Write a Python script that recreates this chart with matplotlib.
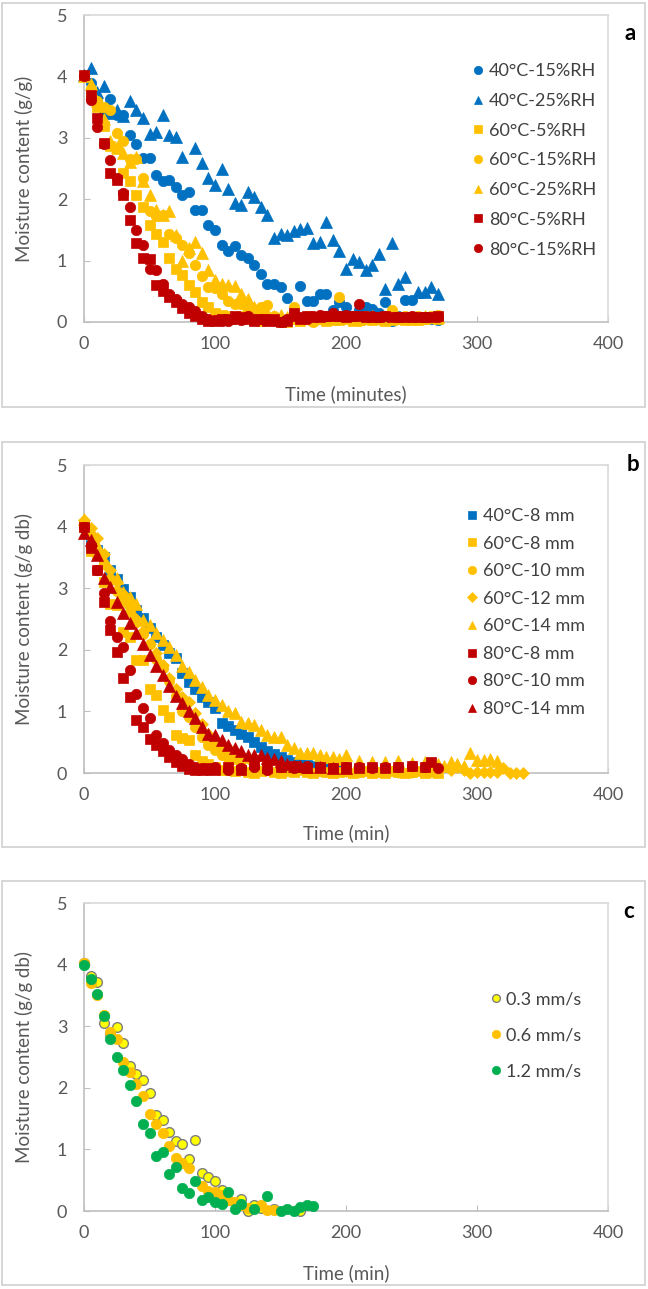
import matplotlib
matplotlib.use('Agg')
import matplotlib.pyplot as plt
from matplotlib.patches import Rectangle

plt.rcParams['font.family'] = ['Lato', 'DejaVu Sans']

BLUE = '#0070C0'
GOLD = '#FFC000'
RED = '#C00000'
GREEN = '#00B050'
YELLOW = '#FFFF00'
GREY_TXT = '#595959'

# ---- panel a : temperature / RH ----
a_40_15_t = [0, 5, 10, 15, 20, 25, 30, 35, 40, 45, 50, 55, 60, 65, 70, 75, 80, 85, 90, 95, 100, 105, 110, 115, 120,
             125, 130, 135, 140, 145, 150, 155, 160, 165, 170, 175, 180, 185, 190, 195, 200, 205, 210, 215, 220,
             225, 230, 235, 240, 245, 250, 255, 260, 265, 270]
a_40_15_m = [4.00, 3.89, 3.62, 3.40, 3.63, 3.37, 3.37, 3.05, 2.90, 2.67, 2.67, 2.39, 2.29, 2.31, 2.20, 2.07, 2.11,
             1.83, 1.82, 1.58, 1.50, 1.25, 1.16, 1.24, 1.09, 1.05, 0.93, 0.78, 0.62, 0.62, 0.57, 0.39, 0.15, 0.58,
             0.35, 0.35, 0.46, 0.46, 0.20, 0.33, 0.25, 0.10, 0.20, 0.25, 0.21, 0.15, 0.33, 0.02, 0.10, 0.36, 0.36,
             0.05, 0.08, 0.05, 0.03]

a_40_25_t = [0, 5, 10, 15, 20, 25, 30, 35, 40, 45, 50, 55, 60, 65, 70, 75, 85, 90, 95, 100, 105, 110, 115, 120,
             125, 130, 135, 140, 145, 150, 155, 160, 165, 170, 175, 180, 185, 190, 195, 200, 205, 210, 215, 220,
             225, 230, 235, 240, 245, 255, 260, 265, 270]
a_40_25_m = [4.02, 4.13, 3.75, 3.84, 3.40, 3.45, 3.35, 3.60, 3.45, 3.32, 3.07, 3.10, 3.37, 3.05, 3.02, 2.69, 2.83,
             2.59, 2.34, 2.23, 2.50, 2.16, 1.93, 1.91, 2.11, 2.04, 1.88, 1.74, 1.36, 1.44, 1.42, 1.49, 1.51, 1.53,
             1.28, 1.31, 1.63, 1.34, 1.16, 0.86, 1.03, 0.98, 0.85, 0.93, 1.11, 0.53, 1.28, 0.62, 0.74, 0.49, 0.49,
             0.57, 0.45]

a_60_5_t = a_40_15_t
a_60_5_m = [4.00, 3.70, 3.50, 3.19, 2.86, 2.81, 2.42, 2.29, 2.07, 1.88, 1.58, 1.44, 1.31, 1.04, 0.87, 0.77, 0.60,
            0.49, 0.33, 0.25, 0.15, 0.12, 0.10, 0.08, 0.10, 0.05, 0.08, 0.02, 0.05, 0.05, 0.02, 0.00, 0.05, 0.02,
            0.05, 0.03, 0.05, 0.02, 0.05, 0.03, 0.05, 0.02, 0.04, 0.05, 0.03, 0.05, 0.02, 0.04, 0.05, 0.03, 0.05,
            0.04, 0.05, 0.06, 0.05]

a_60_15_t = a_40_15_t
a_60_15_m = [4.00, 3.80, 3.60, 3.50, 3.45, 3.08, 2.95, 2.65, 2.65, 2.34, 1.80, 1.72, 1.74, 1.44, 1.37, 1.25, 1.12,
             0.93, 0.75, 0.57, 0.55, 0.45, 0.35, 0.29, 0.29, 0.20, 0.15, 0.25, 0.28, 0.10, 0.05, 0.02, 0.25, 0.05,
             0.10, 0.00, 0.05, 0.10, 0.05, 0.41, 0.10, 0.05, 0.02, 0.10, 0.05, 0.05, 0.10, 0.20, 0.05, 0.10, 0.05,
             0.10, 0.05, 0.10, 0.12]

a_60_25_t = [0, 5, 10, 15, 20, 25, 30, 35, 40, 45, 50, 55, 60, 65, 70, 75, 80, 85, 90, 95, 100, 105, 110, 115, 120,
             125, 130, 135, 140, 145, 150, 155, 160, 170, 180, 190, 200, 210, 220, 230, 240, 250, 260, 270]
a_60_25_m = [4.00, 3.88, 3.60, 3.30, 2.95, 2.85, 2.75, 2.60, 2.68, 2.30, 2.07, 1.82, 1.75, 1.81, 1.42, 1.00, 1.20,
             1.30, 1.12, 0.85, 0.68, 0.62, 0.60, 0.58, 0.45, 0.38, 0.25, 0.20, 0.15, 0.10, 0.12, 0.08, 0.10, 0.08,
             0.10, 0.05, 0.08, 0.05, 0.10, 0.05, 0.08, 0.05, 0.10, 0.08]

a_80_5_t = a_40_15_t
a_80_5_m = [4.02, 3.70, 3.32, 2.91, 2.43, 2.31, 2.07, 1.66, 1.28, 1.04, 1.02, 0.60, 0.50, 0.40, 0.32, 0.22, 0.15,
            0.10, 0.05, 0.02, 0.02, 0.05, 0.05, 0.10, 0.08, 0.05, 0.02, 0.05, 0.02, 0.05, 0.00, 0.02, 0.15, 0.05,
            0.10, 0.08, 0.08, 0.10, 0.10, 0.10, 0.08, 0.10, 0.10, 0.08, 0.08, 0.08, 0.10, 0.08, 0.08, 0.08, 0.08,
            0.08, 0.08, 0.08, 0.10]

a_80_15_t = [0, 5, 10, 15, 20, 25, 30, 35, 40, 45, 50, 55, 60, 65, 70, 75, 80, 85, 90, 95, 100, 105, 110, 115, 120,
             125, 130, 135, 140, 145, 150, 155, 160, 165, 170, 175, 180, 185, 190, 195, 200, 205, 210, 215, 220,
             225, 230, 240, 250, 260, 270]
a_80_15_m = [4.00, 3.62, 3.18, 2.90, 2.64, 2.35, 2.10, 1.88, 1.50, 1.25, 0.87, 0.84, 0.62, 0.45, 0.38, 0.30, 0.25,
             0.18, 0.10, 0.05, 0.03, 0.02, 0.02, 0.05, 0.03, 0.10, 0.05, 0.05, 0.05, 0.02, 0.00, 0.05, 0.10, 0.08,
             0.05, 0.10, 0.12, 0.10, 0.15, 0.10, 0.12, 0.10, 0.30, 0.10, 0.10, 0.08, 0.10, 0.08, 0.10, 0.08, 0.08]

# ---- panel b : temperature / thickness ----
b_40_8_t = [0, 5, 10, 15, 20, 25, 30, 35, 40, 45, 50, 55, 60, 65, 70, 75, 80, 85, 90, 95, 100, 105, 110, 115, 120,
            125, 130, 135, 140, 145, 150, 155, 160, 165, 170, 175, 180, 185, 190, 195, 200]
b_40_8_m = [4.03, 3.75, 3.62, 3.50, 3.30, 3.15, 2.98, 2.86, 2.65, 2.51, 2.35, 2.21, 2.08, 1.94, 1.86, 1.62, 1.48,
            1.37, 1.24, 1.16, 1.05, 0.81, 0.76, 0.70, 0.64, 0.58, 0.50, 0.42, 0.36, 0.31, 0.26, 0.21, 0.18, 0.15,
            0.13, 0.12, 0.11, 0.10, 0.09, 0.08, 0.08]

b_60_8_t = a_40_15_t
b_60_8_m = [4.00, 3.60, 3.55, 3.10, 2.75, 2.72, 2.29, 2.21, 1.83, 1.83, 1.37, 1.27, 1.02, 0.91, 0.62, 0.57, 0.54,
            0.30, 0.20, 0.15, 0.10, 0.05, 0.05, 0.03, 0.05, 0.02, 0.00, 0.03, 0.05, 0.02, 0.00, 0.03, 0.02, 0.05,
            0.02, 0.00, 0.03, 0.02, 0.00, 0.02, 0.03, 0.00, 0.02, 0.03, 0.00, 0.02, 0.00, 0.03, 0.02, 0.00, 0.02,
            0.03, 0.00, 0.02, 0.00]

b_60_10_t = [0, 5, 10, 15, 20, 25, 30, 35, 40, 45, 50, 55, 60, 65, 70, 75, 80, 85, 90, 95, 100, 105, 110, 115, 120,
             130, 140, 150, 160, 170, 180, 190, 200, 210, 220, 230, 240, 250]
b_60_10_m = [4.05, 3.85, 3.60, 3.40, 3.15, 2.95, 2.80, 2.62, 2.45, 2.25, 2.10, 1.85, 1.70, 1.50, 1.25, 1.00, 0.91,
             0.75, 0.59, 0.45, 0.38, 0.29, 0.25, 0.22, 0.20, 0.15, 0.12, 0.10, 0.08, 0.06, 0.05, 0.05, 0.04, 0.03,
             0.03, 0.02, 0.02, 0.02]

b_60_12_t = [0, 5, 10, 15, 20, 25, 30, 35, 40, 45, 50, 55, 60, 65, 70, 75, 80, 85, 90, 95, 100, 105, 110, 115, 120,
             125, 130, 140, 150, 160, 170, 180, 190, 200, 210, 220, 230, 240, 250, 260, 270, 280, 285, 290, 295,
             300, 305, 310, 315, 320, 325, 330, 335]
b_60_12_m = [4.10, 3.97, 3.81, 3.55, 3.30, 3.10, 2.90, 2.70, 2.50, 2.30, 2.10, 1.95, 1.75, 1.54, 1.37, 1.24, 1.16,
             0.97, 0.80, 0.64, 0.54, 0.45, 0.40, 0.33, 0.28, 0.25, 0.20, 0.15, 0.12, 0.10, 0.08, 0.05, 0.05, 0.03,
             0.03, 0.02, 0.03, 0.02, 0.02, 0.03, 0.05, 0.05, 0.10, 0.05, 0.00, 0.02, 0.02, 0.02, 0.02, 0.08, 0.00,
             0.00, 0.00]

b_60_14_t = [0, 5, 10, 15, 20, 25, 30, 35, 40, 45, 50, 55, 60, 65, 70, 75, 80, 85, 90, 95, 100, 105, 110, 115, 120,
             125, 130, 135, 140, 145, 150, 155, 160, 165, 170, 175, 180, 185, 190, 195, 200, 210, 220, 230, 240,
             250, 260, 270, 275, 280, 285, 290, 295, 300, 305, 310, 315]
b_60_14_m = [4.13, 3.95, 3.70, 3.45, 3.21, 3.16, 2.94, 2.85, 2.75, 2.48, 2.40, 2.27, 2.16, 2.05, 1.92, 1.73, 1.64,
             1.51, 1.40, 1.27, 1.18, 1.10, 1.00, 0.97, 0.82, 0.81, 0.78, 0.70, 0.62, 0.59, 0.58, 0.45, 0.40, 0.32,
             0.33, 0.33, 0.30, 0.26, 0.26, 0.22, 0.29, 0.20, 0.18, 0.18, 0.20, 0.16, 0.18, 0.15, 0.12, 0.18, 0.15,
             0.12, 0.32, 0.21, 0.21, 0.22, 0.20]

b_80_8_t = [0, 5, 10, 15, 20, 25, 30, 35, 40, 45, 50, 55, 60, 65, 70, 75, 80, 85, 90, 95, 100, 110, 120, 130, 140,
            150, 160, 170, 180, 190, 200, 210, 220, 230, 240, 250, 260, 265]
b_80_8_m = [4.00, 3.65, 3.30, 2.78, 2.32, 1.97, 1.54, 1.24, 0.86, 0.75, 0.56, 0.45, 0.35, 0.26, 0.18, 0.12, 0.06,
            0.05, 0.05, 0.08, 0.05, 0.10, 0.05, 0.15, 0.08, 0.10, 0.12, 0.08, 0.10, 0.08, 0.10, 0.08, 0.10, 0.08,
            0.10, 0.12, 0.10, 0.18]

b_80_10_t = [0, 5, 10, 15, 20, 25, 30, 35, 40, 45, 50, 55, 60, 65, 70, 75, 80, 85, 90, 95, 100, 110, 120, 130, 140,
             150, 160, 170, 180, 190, 200, 210, 220, 230, 240, 250, 260, 270]
b_80_10_m = [4.00, 3.70, 3.30, 2.92, 2.46, 2.21, 2.05, 1.67, 1.29, 1.05, 0.89, 0.62, 0.48, 0.38, 0.30, 0.22, 0.15,
             0.10, 0.08, 0.05, 0.10, 0.05, 0.08, 0.10, 0.05, 0.10, 0.08, 0.12, 0.10, 0.08, 0.10, 0.10, 0.08, 0.10,
             0.10, 0.12, 0.10, 0.08]

b_80_14_t = [0, 5, 10, 15, 20, 25, 30, 35, 40, 45, 50, 55, 60, 65, 70, 75, 80, 85, 90, 95, 100, 105, 110, 115, 120,
             125, 130, 135, 140, 145, 150, 155, 160, 165, 170, 180, 190, 200]
b_80_14_m = [3.89, 3.78, 3.54, 3.16, 3.02, 2.78, 2.59, 2.43, 2.27, 2.10, 1.92, 1.73, 1.59, 1.41, 1.25, 1.13, 1.00,
             0.89, 0.75, 0.64, 0.62, 0.53, 0.45, 0.40, 0.35, 0.30, 0.30, 0.30, 0.25, 0.22, 0.20, 0.15, 0.12, 0.12,
             0.10, 0.10, 0.08, 0.08]

# ---- panel c : air velocity ----
c_03_t = [0, 5, 10, 15, 20, 25, 30, 35, 40, 45, 50, 55, 60, 65, 70, 75, 80, 85, 90, 95, 100, 105, 110, 120, 125,
          130, 135, 145, 165]
c_03_m = [4.02, 3.81, 3.72, 3.06, 2.88, 2.98, 2.73, 2.36, 2.22, 2.13, 1.92, 1.56, 1.47, 1.29, 1.14, 1.08, 0.84,
          1.16, 0.62, 0.55, 0.48, 0.34, 0.18, 0.19, 0.00, 0.10, 0.05, 0.04, 0.00]

c_06_t = [0, 5, 10, 15, 20, 25, 30, 35, 40, 45, 50, 55, 60, 65, 70, 75, 80, 90, 95, 100, 105, 110, 115, 120, 125,
          135, 140, 145]
c_06_m = [4.03, 3.70, 3.51, 3.18, 2.91, 2.80, 2.42, 2.26, 2.06, 1.87, 1.57, 1.42, 1.26, 1.06, 0.86, 0.78, 0.70,
          0.40, 0.33, 0.31, 0.26, 0.18, 0.15, 0.10, 0.05, 0.10, 0.02, 0.02]

c_12_t = [0, 5, 10, 15, 20, 25, 30, 35, 40, 45, 50, 55, 60, 65, 70, 75, 80, 85, 90, 95, 100, 105, 110, 115, 120,
          130, 140, 150, 155, 160, 165, 170, 175]
c_12_m = [3.99, 3.76, 3.52, 3.17, 2.80, 2.50, 2.29, 2.05, 1.79, 1.41, 1.26, 0.89, 0.96, 0.60, 0.71, 0.37, 0.29,
          0.48, 0.18, 0.23, 0.15, 0.12, 0.31, 0.03, 0.12, 0.03, 0.24, 0.00, 0.04, 0.00, 0.07, 0.09, 0.08]

W, H = 648, 1289
fig = plt.figure(figsize=(W / 100, H / 100), dpi=100)


def px_axes(x0, y0, x1, y1):
    # pixel box (top-left origin) -> figure axes
    return fig.add_axes([x0 / W, 1 - y1 / H, (x1 - x0) / W, (y1 - y0) / H])


def panel_box(x0, y0, x1, y1):
    fig.add_artist(Rectangle((x0 / W, 1 - y1 / H), (x1 - x0) / W, (y1 - y0) / H,
                             transform=fig.transFigure, fill=False, edgecolor='#D0D0D0', lw=1.2))


def style(ax, xlabel, ylabel, xlab_y):
    ax.set_xlim(0, 400)
    ax.set_ylim(0, 5)
    ax.set_xticks([0, 100, 200, 300, 400])
    ax.set_yticks([0, 1, 2, 3, 4, 5])
    for sp in ax.spines.values():
        sp.set_color('#D9D9D9')
        sp.set_linewidth(1.2)
    ax.spines['left'].set_color('#BFBFBF')
    ax.spines['bottom'].set_color('#BFBFBF')
    ax.tick_params(axis='both', colors=GREY_TXT, labelsize=13, direction='in', length=4)
    ax.tick_params(axis='both', color='#BFBFBF')
    ax.tick_params(axis='x', pad=10)
    ax.tick_params(axis='y', pad=12)
    ax.set_xlabel(xlabel, fontsize=13.5, color=GREY_TXT)
    ax.set_ylabel(ylabel, fontsize=13.5, color=GREY_TXT)
    ax.xaxis.set_label_coords(0.5, xlab_y)
    ax.yaxis.set_label_coords(-0.097, 0.5)


def pts(ax, t, m, marker, face, size, label, edge=None):
    ax.plot(t, m, linestyle='none', marker=marker, markersize=size, markerfacecolor=face,
            markeredgecolor=edge if edge else face, markeredgewidth=1 if edge else 0.5,
            label=label, clip_on=False, zorder=3)


def legend(ax, x, y, spacing):
    lg = ax.legend(loc='upper left', bbox_to_anchor=(x, y), frameon=False, fontsize=13,
                   handlelength=0.6, handletextpad=0.3, labelspacing=spacing,
                   borderaxespad=0, borderpad=0, markerscale=0.8)
    for txt in lg.get_texts():
        txt.set_color('#404040')


# panel a
panel_box(2, 3, 645, 407)
ax1 = px_axes(84, 15, 608, 322)
pts(ax1, a_40_15_t, a_40_15_m, 'o', BLUE, 7.5, '40°C-15%RH')
pts(ax1, a_40_25_t, a_40_25_m, '^', BLUE, 8, '40°C-25%RH')
pts(ax1, a_60_5_t, a_60_5_m, 's', GOLD, 7, '60°C-5%RH')
pts(ax1, a_60_15_t, a_60_15_m, 'o', GOLD, 7.5, '60°C-15%RH')
pts(ax1, a_60_25_t, a_60_25_m, '^', GOLD, 8, '60°C-25%RH')
pts(ax1, a_80_5_t, a_80_5_m, 's', RED, 7, '80°C-5%RH')
pts(ax1, a_80_15_t, a_80_15_m, 'o', RED, 7.5, '80°C-15%RH')
style(ax1, 'Time (minutes)', 'Moisture content (g/g)', -0.205)
legend(ax1, 0.742, 0.843, 0.76)
fig.text(630 / W, 1 - 33 / H, 'a', fontsize=16, fontweight='bold', ha='center', va='center')

# panel b
panel_box(2, 442, 645, 847)
ax2 = px_axes(84, 465, 608, 773)
pts(ax2, b_40_8_t, b_40_8_m, 's', BLUE, 7, '40°C-8 mm')
pts(ax2, b_60_8_t, b_60_8_m, 's', GOLD, 7, '60°C-8 mm')
pts(ax2, b_60_10_t, b_60_10_m, 'o', GOLD, 7.5, '60°C-10 mm')
pts(ax2, b_60_12_t, b_60_12_m, 'D', GOLD, 6, '60°C-12 mm')
pts(ax2, b_60_14_t, b_60_14_m, '^', GOLD, 8, '60°C-14 mm')
pts(ax2, b_80_8_t, b_80_8_m, 's', RED, 7, '80°C-8 mm')
pts(ax2, b_80_10_t, b_80_10_m, 'o', RED, 7.5, '80°C-10 mm')
pts(ax2, b_80_14_t, b_80_14_m, '^', RED, 8, '80°C-14 mm')
style(ax2, 'Time (min)', 'Moisture content (g/g db)', -0.165)
legend(ax2, 0.731, 0.860, 0.64)
fig.text(633 / W, 1 - 465 / H, 'b', fontsize=16, fontweight='bold', ha='center', va='center')

# panel c
panel_box(2, 881, 645, 1285)
ax3 = px_axes(84, 903, 608, 1211)
pts(ax3, c_03_t, c_03_m, 'o', YELLOW, 7, '0.3 mm/s', edge='#7F7F7F')
pts(ax3, c_06_t, c_06_m, 'o', GOLD, 7.5, '0.6 mm/s')
pts(ax3, c_12_t, c_12_m, 'o', GREEN, 7.5, '1.2 mm/s')
style(ax3, 'Time (min)', 'Moisture content (g/g db)', -0.172)
legend(ax3, 0.775, 0.712, 1.1)
fig.text(629 / W, 1 - 912 / H, 'c', fontsize=16, fontweight='bold', ha='center', va='center')

fig.savefig('out.png', dpi=100)
